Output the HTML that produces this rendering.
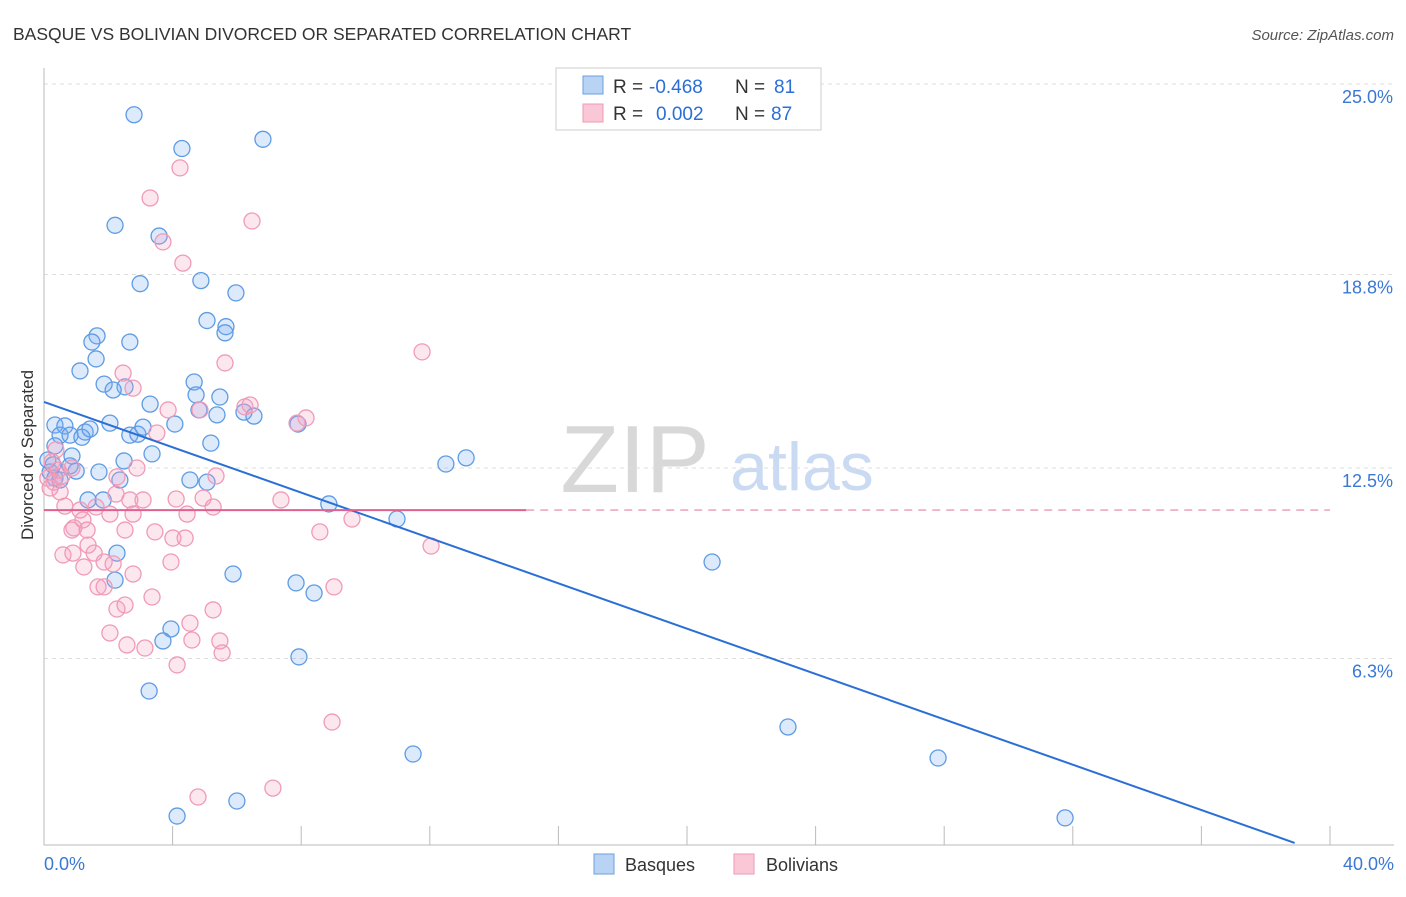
<!DOCTYPE html>
<html><head><meta charset="utf-8"><style>
body{margin:0;background:#fff;font-family:"Liberation Sans",sans-serif;}
svg text{font-family:"Liberation Sans",sans-serif;}
</style></head><body>
<svg id="chart" width="1406" height="892" xmlns="http://www.w3.org/2000/svg">
<text x="13" y="40" font-size="17.5" fill="#333">BASQUE VS BOLIVIAN DIVORCED OR SEPARATED CORRELATION CHART</text>
<text x="1394" y="40" font-size="15" fill="#555" text-anchor="end" font-style="italic">Source: ZipAtlas.com</text>
<text transform="translate(33,455) rotate(-90)" font-size="17" fill="#333" text-anchor="middle">Divorced or Separated</text>
<g>
<text x="635" y="492" font-size="96" fill="#d8d8d8" font-family="Liberation Serif" text-anchor="middle">ZIP</text>
<text x="802" y="490" font-size="68" fill="#c9daf2" text-anchor="middle">atlas</text>
</g>
<g id="grid"></g><g id="axes"></g><g id="pts"></g><g id="trends"></g>
<g>
<rect x="556" y="68" width="265" height="62" fill="#fff" stroke="#ccc"/>
<rect x="583" y="76" width="20" height="18" fill="#b9d3f5" stroke="#6a9fe0"/>
<rect x="583" y="104" width="20" height="18" fill="#f9c7d6" stroke="#ef9ab6"/>
<text x="613" y="93" font-size="19" fill="#333">R =</text>
<text x="649" y="93" font-size="19" fill="#2a6fd6">-0.468</text>
<text x="735" y="93" font-size="19" fill="#333">N =</text>
<text x="774" y="93" font-size="19" fill="#2a6fd6">81</text>
<text x="613" y="120" font-size="19" fill="#333">R =</text>
<text x="656" y="120" font-size="19" fill="#2a6fd6">0.002</text>
<text x="735" y="120" font-size="19" fill="#333">N =</text>
<text x="771" y="120" font-size="19" fill="#2a6fd6">87</text>
</g>
<g>
<rect x="594" y="854" width="20" height="20" fill="#b9d3f5" stroke="#6a9fe0"/>
<text x="625" y="871" font-size="18" fill="#333">Basques</text>
<rect x="734" y="854" width="20" height="20" fill="#f9c7d6" stroke="#ef9ab6"/>
<text x="766" y="871" font-size="18" fill="#333">Bolivians</text>
</g>
</svg>
<script>
const yTicks=[6.3,12.5,18.8,25.0];
const yTickLabels=["6.3%","12.5%","18.8%","25.0%"];
const xTicks=[0,4,8,12,16,20,24,28,32,36,40];
const xEndLabels=["0.0%","40.0%"];
const basqueX=[2.8,4.29,6.81,2.21,3.58,2.99,4.88,5.97,5.07,5.66,5.63,1.65,1.49,2.67,1.62,1.12,1.87,2.52,2.15,4.67,4.73,5.47,3.30,2.05,0.34,0.65,0.5,0.81,1.28,1.18,1.43,2.67,2.92,3.08,4.07,5.38,6.22,6.53,4.82,7.9,5.19,0.34,0.87,2.49,3.36,0.81,1.0,1.71,0.19,0.34,0.5,2.36,4.54,5.07,1.37,1.84,8.86,10.98,12.5,13.13,2.27,2.21,5.88,7.84,8.4,20.78,3.95,3.70,7.93,3.27,23.14,11.48,27.81,6.0,4.14,31.76,0.12,0.28];
const basqueY=[24.0,22.9,23.2,20.4,20.05,18.5,18.6,18.2,17.3,17.1,16.9,16.8,16.6,16.6,16.05,15.66,15.23,15.14,15.04,15.3,14.88,14.81,14.58,13.96,13.9,13.87,13.57,13.57,13.67,13.5,13.77,13.57,13.6,13.83,13.93,14.23,14.32,14.19,14.39,13.93,13.31,13.22,12.89,12.73,12.96,12.57,12.4,12.37,12.37,12.17,12.11,12.11,12.11,12.04,11.46,11.46,11.33,10.84,12.63,12.83,9.73,8.85,9.05,8.76,8.43,9.44,7.26,6.87,6.35,5.24,4.07,3.19,3.06,1.66,1.17,1.11,12.76,12.6];
const bolivianX=[4.23,3.30,6.47,3.70,4.32,11.76,5.63,2.46,2.77,6.25,3.86,4.85,8.15,6.41,3.51,7.87,0.37,0.25,0.87,0.12,0.56,2.27,5.35,2.89,0.19,0.5,2.24,2.67,3.08,4.11,4.95,7.37,0.65,1.12,1.21,1.62,2.05,2.77,4.45,5.26,9.58,0.93,0.87,1.34,2.52,3.45,4.01,4.39,8.58,12.04,0.59,0.9,1.37,1.56,1.87,2.15,2.77,3.95,1.24,1.68,1.87,2.27,2.52,3.36,5.26,9.02,2.05,2.58,3.14,4.54,4.6,5.54,4.14,8.96,4.79,7.12,5.47,0.31,0.44];
const bolivianY=[22.27,21.29,20.54,19.86,19.17,16.28,15.92,15.59,15.1,14.49,14.39,14.39,14.13,14.55,13.64,13.96,13.09,12.7,12.5,12.17,12.24,12.21,12.24,12.5,11.85,11.72,11.65,11.46,11.46,11.49,11.52,11.46,11.26,11.13,10.81,11.23,11.0,11.0,11.0,11.23,10.84,10.55,10.48,10.48,10.48,10.42,10.22,10.22,10.42,9.96,9.67,9.73,9.99,9.73,9.44,9.38,9.05,9.44,9.28,8.63,8.63,7.91,8.04,8.3,7.88,8.63,7.13,6.74,6.64,7.45,6.9,6.48,6.09,4.23,1.79,2.08,6.87,12.04,12.43];
const basqueTrend=[14.65,-0.369];
const bolivianTrend=[11.13,0.0];
const NS="http://www.w3.org/2000/svg";
const X=v=>44+v*32.15, Y=v=>852-v*30.72;
function mk(p,t,a){const e=document.createElementNS(NS,t);for(const k in a)e.setAttribute(k,a[k]);document.getElementById(p).appendChild(e);return e;}
yTicks.forEach((t,i)=>{
 const g=mk('grid','line',{x1:44,x2:1394,y1:Y(t),y2:Y(t),stroke:'#ddd','stroke-dasharray':'4,4'});
 
 
 const l=mk('grid','text',{x:1393,y:Y(t)+19,'font-size':18,fill:'#3a78d4','text-anchor':'end'});l.textContent=yTickLabels[i];
 
 
});
const ya=mk('axes','line',{x1:44,x2:44,y1:68,y2:845,stroke:'#bbb'});


const xa=mk('axes','line',{x1:44,x2:1394,y1:845,y2:845,stroke:'#bbb'});


xTicks.forEach(t=>{const k=mk('axes','line',{x1:X(t),x2:X(t),y1:826,y2:845,stroke:'#bbb'});
 
 });
[[0,'start',44],[40,'end',1394]].forEach((d,i)=>{const l=mk('axes','text',{x:d[2],y:870,'font-size':18,fill:'#3a78d4','text-anchor':d[1]});l.textContent=xEndLabels[i];
 
 });
basqueX.forEach((x,i)=>{const c=mk('pts','circle',{cx:X(x),cy:Y(basqueY[i]),r:8,fill:'rgba(120,170,240,0.25)',stroke:'#5d9be4','stroke-width':1.3});
 
 });
bolivianX.forEach((x,i)=>{const c=mk('pts','circle',{cx:X(x),cy:Y(bolivianY[i]),r:8,fill:'rgba(245,160,190,0.25)',stroke:'#f09ab7','stroke-width':1.3});
 
 });
const bx2=38.9;
const bl=mk('trends','line',{x1:X(0),y1:Y(basqueTrend[0]),x2:X(bx2),y2:Y(basqueTrend[0]+basqueTrend[1]*bx2),stroke:'#2a6fd6','stroke-width':2});


const pl=mk('trends','line',{x1:X(0),y1:Y(bolivianTrend[0]),x2:X(15),y2:Y(bolivianTrend[0]+bolivianTrend[1]*15),stroke:'#e0608f','stroke-width':2});


const pd=mk('trends','line',{x1:X(15),y1:Y(bolivianTrend[0]+bolivianTrend[1]*15),x2:X(40),y2:Y(bolivianTrend[0]+bolivianTrend[1]*40),stroke:'#e89ab4','stroke-width':1.3,'stroke-dasharray':'8,6'});


</script>
</body></html>
